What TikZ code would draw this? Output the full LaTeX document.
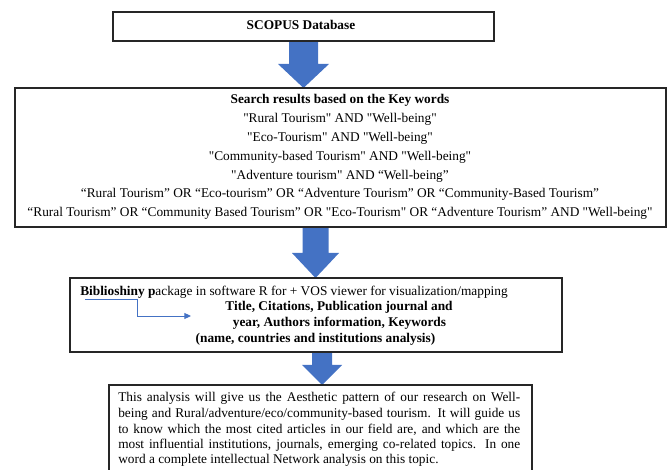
\documentclass[tikz,border=0pt]{standalone}
\usepackage{fontspec}
\setmainfont{Liberation Serif}[Ligatures=TeXOff]
\usetikzlibrary{arrows.meta,fit}
\definecolor{arrowblue}{HTML}{4472C4}
\tikzset{
  box/.style={draw=black!85, line width=0.9pt, inner sep=0pt},
  bodytext/.style={font=\fontsize{10}{12}\selectfont, inner sep=0pt},
  bigarrow/.style={fill=arrowblue, draw=none},
  pointer/.style={draw=arrowblue, line width=0.7pt, -{Triangle[length=5pt,width=4.5pt]}}
}
\newcommand{\blockarrow}[6]{%
  \fill[bigarrow] ({#1-#5},#2) -- ({#1+#5},#2) -- ({#1+#5},#3) -- ({#1+#6},#3)
    -- (#1,#4) -- ({#1-#6},#3) -- ({#1-#5},#3) -- cycle;}
\begin{document}
\begin{tikzpicture}[x=0.75pt,y=-0.75pt]
\useasboundingbox (0,0) rectangle (668,470);
% block arrows
\blockarrow{303.5}{41}{64}{88}{14.5}{25.5}
\blockarrow{315.5}{227}{253}{278}{13}{23.5}
\blockarrow{322}{352}{365}{385}{10}{20}
% boxes
\node[box, fit={(113,12) (494,41)}] (scopus) {};
\node[box, fit={(15,88) (666,227)}] (search) {};
\node[box, fit={(70,278) (562,352)}] (biblio) {};
\node[box, fit={(109,385) (532,473)}] (result) {};
% box 1
\node[bodytext, font=\fontsize{10}{12}\selectfont\bfseries, anchor=base] (t1) at (301,30) {SCOPUS Database};
% box 2
\node[bodytext, anchor=base] (s1) at (340,104) {\textbf{Search results based on the Key words}};
\node[bodytext, anchor=base] (s2) at (340,122.8) {"Rural Tourism" AND "Well-being"};
\node[bodytext, anchor=base] (s3) at (340,141.6) {"Eco-Tourism" AND "Well-being"};
\node[bodytext, anchor=base] (s4) at (340,160.4) {"Community-based Tourism" AND "Well-being"};
\node[bodytext, anchor=base] (s5) at (340,179.2) {"Adventure tourism" AND “Well-being”};
\node[bodytext, anchor=base] (s6) at (340,198) {“Rural Tourism” OR “Eco-tourism” OR “Adventure Tourism” OR “Community-Based Tourism”};
\node[bodytext, anchor=base] (s7) at (340,216.8) {“Rural Tourism” OR “Community Based Tourism” OR "Eco-Tourism" OR “Adventure Tourism” AND "Well-being"};
% box 3
\node[bodytext, anchor=base west] (b1) at (80,296) {\textbf{Biblioshiny p}ackage in software R for + VOS viewer for visualization/mapping};
\node[bodytext, anchor=base] (b2) at (339,311) {\textbf{Title, Citations, Publication journal and}};
\node[bodytext, anchor=base] (b3) at (339.5,327) {\textbf{year, Authors information, Keywords}};
\node[bodytext, anchor=base] (b4) at (315.5,343) {\textbf{(name, countries and institutions analysis)}};
\coordinate (u1) at (85,299);
\coordinate (u2) at (137,299);
\coordinate (u3) at (137,316);
\coordinate (u4) at (191,316);
\draw[pointer] (u1) -- (u2) -- (u3) -- (u4);
% box 4
\node[bodytext, anchor=base west] (r1) at (118,402) {\makebox[301.5pt][s]{This analysis will give us the Aesthetic pattern of our research on Well-}};
\node[bodytext, anchor=base west] (r2) at (118,417.5) {\makebox[301.5pt][s]{being and Rural/adventure/eco/community-based tourism. It will guide us}};
\node[bodytext, anchor=base west] (r3) at (118,433) {\makebox[301.5pt][s]{to know which the most cited articles in our field are, and which are the}};
\node[bodytext, anchor=base west] (r4) at (118,448.5) {\makebox[301.5pt][s]{most influential institutions, journals, emerging co-related topics. In one}};
\node[bodytext, anchor=base west] (r5) at (118,464) {word a complete intellectual Network analysis on this topic.};
\end{tikzpicture}
\end{document}
